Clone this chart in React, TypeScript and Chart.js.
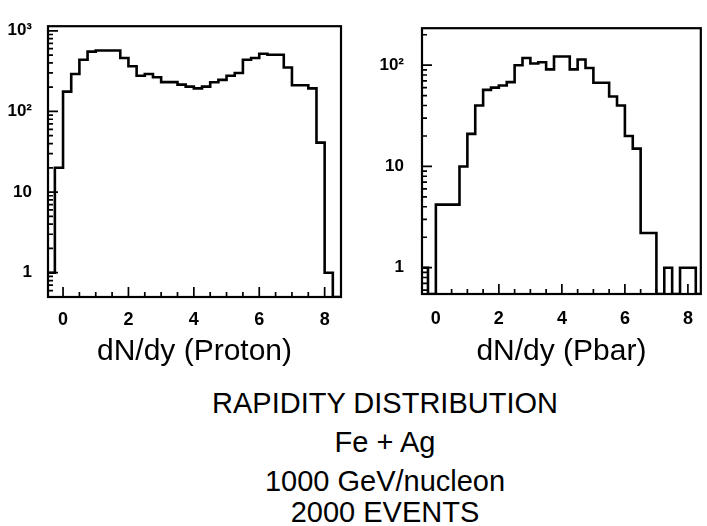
import React, { useEffect, useRef } from "react";
import { Chart, registerables } from "chart.js";

Chart.register(...registerables);

// ---------- data ----------
const binEdges = [
  -0.5, -0.25, 0, 0.25, 0.5, 0.75, 1, 1.25, 1.5, 1.75, 2, 2.25, 2.5, 2.75, 3, 3.25, 3.5, 3.75,
  4, 4.25, 4.5, 4.75, 5, 5.25, 5.5, 5.75, 6, 6.25, 6.5, 6.75, 7, 7.25, 7.5, 7.75, 8, 8.25, 8.5,
];

// counts per bin (bin i spans binEdges[i] .. binEdges[i+1])
const protonCounts = [
  1, 20, 176, 291, 438, 551, 569, 569, 569, 460, 364, 277, 291, 265, 231, 231, 215, 203,
  193, 203, 230, 246, 277, 300, 438, 460, 520, 504, 504, 350, 211, 211, 193, 41, 1, 0,
];

const pbarCounts = [
  1, 0, 4.2, 4.2, 4.2, 10, 21, 40, 57, 60, 63, 68, 100, 118, 104, 107, 91, 122,
  122, 91, 114, 94, 67, 67, 49, 40, 20, 15, 2.2, 2.2, 0, 1, 0, 1, 1, 0,
];

const xMajorTicks = [0, 2, 4, 6, 8];
const xTickLabels = ["0", "2", "4", "6", "8"];
const xMinorTicks = [0.5, 1, 1.5, 2.5, 3, 3.5, 4.5, 5, 5.5, 6.5, 7, 7.5];

const protonYTicks = [1, 10, 100, 1000];
const protonYLabels = ["1", "10", "10\u00B2", "10\u00B3"];
const pbarYTicks = [1, 10, 100];
const pbarYLabels = ["1", "10", "10\u00B2"];
const minorMultipliers = [2, 3, 4, 5, 6, 7, 8, 9];

const bottomLines = ["RAPIDITY DISTRIBUTION", "Fe + Ag", "1000 GeV/nucleon", "2000 EVENTS"];
const bottomLineTops = [389, 428, 467, 498];

const FONT = "'Liberation Sans', Arial, Helvetica, sans-serif";

// ---------- plugin: inward ticks + frame ----------
const innerTicks = {
  id: "innerTicks",
  afterDatasetsDraw(chart: any, _args: any, opts: any) {
    const { ctx, chartArea: a, scales } = chart;
    const xs = scales.x;
    const ys = scales.y;
    ctx.save();
    ctx.strokeStyle = "#000";
    ctx.lineWidth = 1.7;
    ctx.beginPath();
    for (const v of xMajorTicks) {
      const px = xs.getPixelForValue(v);
      ctx.moveTo(px, a.bottom);
      ctx.lineTo(px, a.bottom - 10);
    }
    for (const v of xMinorTicks) {
      const px = xs.getPixelForValue(v);
      ctx.moveTo(px, a.bottom);
      ctx.lineTo(px, a.bottom - 5);
    }
    const yt: number[] = opts.yTicks || [];
    for (const v of yt) {
      const py = ys.getPixelForValue(v);
      if (py >= a.top - 1 && py <= a.bottom + 1) {
        ctx.moveTo(a.left, py);
        ctx.lineTo(a.left + 10, py);
      }
    }
    const decades = [0.1, ...yt];
    for (const d of decades) {
      for (const m of minorMultipliers) {
        const v = d * m;
        if (v < ys.min || v > ys.max) continue;
        const py = ys.getPixelForValue(v);
        ctx.moveTo(a.left, py);
        ctx.lineTo(a.left + 5, py);
      }
    }
    ctx.stroke();
    ctx.lineWidth = 2.2;
    ctx.strokeRect(a.left, a.top, a.right - a.left, a.bottom - a.top);
    ctx.restore();
  },
};

type PanelCfg = {
  counts: number[];
  title: string;
  xMin: number;
  xMax: number;
  yMin: number;
  yMax: number;
  yTicks: number[];
  yLabels: string[];
  left: number;
  width: number;
  height: number;
  yAxisWidth: number;
  xAxisHeight: number;
  padTop: number;
  padRight: number;
  xTickPad: number;
  yTickPad: number;
  titlePadBottom: number;
};

function Panel({ cfg }: { cfg: PanelCfg }) {
  const ref = useRef<HTMLCanvasElement | null>(null);
  useEffect(() => {
    if (!ref.current) return;
    const pts = binEdges.map((e, i) => {
      const c = cfg.counts[Math.min(i, cfg.counts.length - 1)];
      return { x: e, y: c > 0 ? c : cfg.yMin };
    });
    const chart = new Chart(ref.current, {
      type: "line",
      data: {
        datasets: [
          {
            data: pts,
            stepped: "before",
            borderColor: "#000",
            borderWidth: 2.6,
            pointRadius: 0,
            fill: false,
            tension: 0,
          } as any,
        ],
      },
      options: {
        responsive: false,
        animation: false,
        devicePixelRatio: 1,
        layout: { padding: { top: cfg.padTop, right: cfg.padRight, left: 0, bottom: 0 } },
        plugins: {
          legend: { display: false },
          tooltip: { enabled: false },
          innerTicks: { yTicks: cfg.yTicks },
        } as any,
        scales: {
          x: {
            type: "linear",
            min: cfg.xMin,
            max: cfg.xMax,
            grid: { display: false, drawTicks: false },
            border: { display: false },
            afterBuildTicks: (s: any) => {
              s.ticks = xMajorTicks.map((v) => ({ value: v }));
            },
            afterFit: (s: any) => {
              s.height = cfg.xAxisHeight;
            },
            ticks: {
              padding: cfg.xTickPad,
              maxRotation: 0,
              autoSkip: false,
              color: "#000",
              font: { family: FONT, size: 18, weight: "bold" },
              callback: (v: any) => xTickLabels[xMajorTicks.indexOf(Number(v))] ?? "",
            },
            title: {
              display: true,
              text: cfg.title,
              color: "#000",
              font: { family: FONT, size: 30, lineHeight: 1.2 },
              padding: { top: 0, bottom: cfg.titlePadBottom },
            },
          },
          y: {
            type: "logarithmic",
            min: cfg.yMin,
            max: cfg.yMax,
            grid: { display: false, drawTicks: false },
            border: { display: false },
            afterBuildTicks: (s: any) => {
              s.ticks = cfg.yTicks.map((v) => ({ value: v, major: true }));
            },
            afterFit: (s: any) => {
              s.width = cfg.yAxisWidth;
            },
            ticks: {
              padding: cfg.yTickPad,
              autoSkip: false,
              color: "#000",
              font: { family: FONT, size: 17, weight: "bold" },
              callback: (v: any) => cfg.yLabels[cfg.yTicks.indexOf(Number(v))] ?? "",
            },
          },
        } as any,
      },
      plugins: [innerTicks as any],
    });
    return () => chart.destroy();
  }, [cfg]);
  return (
    <canvas
      ref={ref}
      width={cfg.width}
      height={cfg.height}
      style={{ position: "absolute", left: cfg.left, top: 0, width: cfg.width, height: cfg.height, display: "block" }}
    />
  );
}

const protonCfg: PanelCfg = {
  counts: protonCounts,
  title: "dN/dy (Proton)",
  xMin: -0.46,
  xMax: 8.5,
  yMin: 0.5,
  yMax: 1140,
  yTicks: protonYTicks,
  yLabels: protonYLabels,
  left: 0,
  width: 360,
  height: 375,
  yAxisWidth: 48,
  xAxisHeight: 78,
  padTop: 15,
  padRight: 19,
  xTickPad: 12,
  yTickPad: 16,
  titlePadBottom: 5,
};

const pbarCfg: PanelCfg = {
  counts: pbarCounts,
  title: "dN/dy (Pbar)",
  xMin: -0.44,
  xMax: 8.41,
  yMin: 0.55,
  yMax: 232,
  yTicks: pbarYTicks,
  yLabels: pbarYLabels,
  left: 360,
  width: 347,
  height: 375,
  yAxisWidth: 62,
  xAxisHeight: 81,
  padTop: 13,
  padRight: 2,
  xTickPad: 14,
  yTickPad: 18,
  titlePadBottom: 5,
};

export default function App() {
  return (
    <div
      style={{
        position: "fixed",
        left: 0,
        top: 0,
        width: 707,
        height: 526,
        overflow: "hidden",
        background: "#fff",
      }}
    >
      <Panel cfg={protonCfg} />
      <Panel cfg={pbarCfg} />
      {bottomLines.map((t, i) => (
        <div
          key={i}
          style={{
            position: "absolute",
            left: 135,
            width: 500,
            top: bottomLineTops[i],
            textAlign: "center",
            fontFamily: FONT,
            fontSize: 29,
            lineHeight: "29px",
            color: "#000",
            whiteSpace: "nowrap",
          }}
        >
          {t}
        </div>
      ))}
    </div>
  );
}
